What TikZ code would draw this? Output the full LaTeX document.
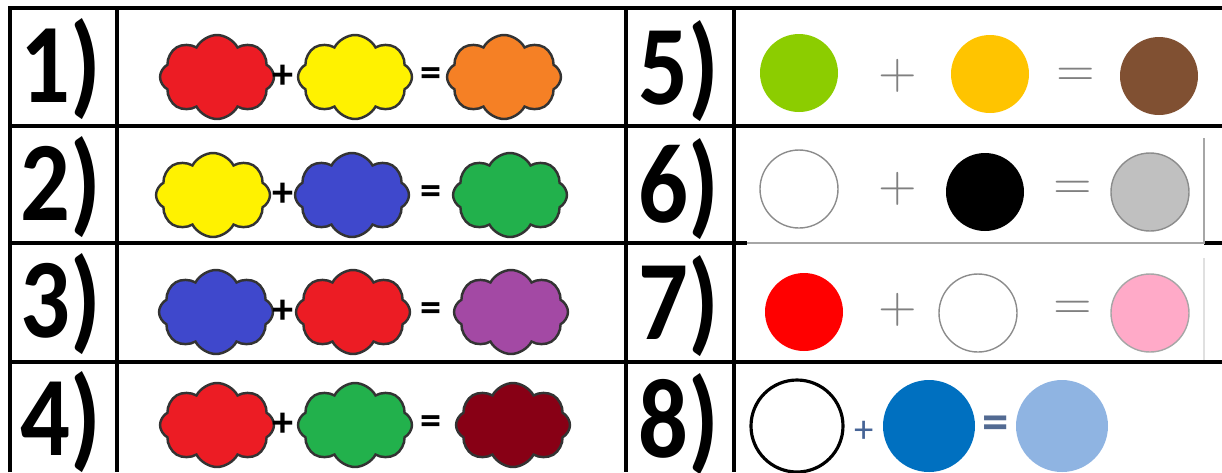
\documentclass[tikz,border=0pt]{standalone}
\usepackage{fontspec}
\setmainfont{Carlito}
\usepackage{tikz}
\usetikzlibrary{shapes.symbols}
\definecolor{paintred}{RGB}{236,28,36}
\definecolor{paintyellow}{RGB}{255,242,0}
\definecolor{paintorange}{RGB}{245,128,37}
\definecolor{paintblue}{RGB}{63,72,204}
\definecolor{paintgreen}{RGB}{34,177,76}
\definecolor{paintpurple}{RGB}{163,73,164}
\definecolor{paintwine}{RGB}{136,0,21}
\definecolor{dotlime}{RGB}{140,205,0}
\definecolor{dotamber}{RGB}{255,196,0}
\definecolor{dotbrown}{RGB}{128,80,50}
\definecolor{dotgray}{RGB}{192,192,192}
\definecolor{dotred}{RGB}{255,0,0}
\definecolor{dotpink}{RGB}{255,170,200}
\definecolor{dotblue}{RGB}{0,112,192}
\definecolor{dotsky}{RGB}{143,180,226}
\definecolor{slate}{RGB}{70,100,150}
\newcommand{\rownum}[1]{\scalebox{1}[1.15]{\fontsize{28}{30}\selectfont\bfseries #1}}
\tikzset{
  grid/.style   = {line width=0.9pt, draw=black},
  frame/.style  = {line width=0.3pt, draw=black!35},
  num/.style    = {inner sep=0pt},
  puff/.style   = {cloud, cloud puffs=8, cloud puff arc=125, cloud ignores aspect,
                   minimum width=11.4mm, minimum height=8.4mm, inner sep=0pt,
                   draw=black!80, line width=0.7pt},
  op/.style     = {font=\fontsize{12}{12}\selectfont\bfseries, inner sep=0pt},
  thinop/.style = {font=\fontsize{15}{15}\selectfont, text=black!50, inner sep=0pt},
  dot/.style    = {circle, minimum size=7.8mm, inner sep=0pt},
  bigdot/.style = {circle, minimum size=9.2mm, inner sep=0pt},
}
\begin{document}
\begin{tikzpicture}[x=0.1mm, y=-0.1mm]
    \useasboundingbox (0,0) rectangle (1222,472);

    % table rules
    \draw[grid] (10,472) -- (10,8) -- (1222,8);
    \draw[grid] (10,126) -- (1222,126);
    \draw[grid] (10,243) -- (747,243);
    \draw[grid] (1204,243) -- (1222,243);
    \draw[grid] (10,362) -- (1222,362);
    \draw[grid] (117,8) -- (117,472);
    \draw[grid] (626,8) -- (626,472);
    \draw[grid] (734,8) -- (734,472);

    % picture frames in rows 6 and 7
    \draw[frame] (747,243) -- (1204,243) -- (1204,138);
    \draw[frame, draw=black!12] (1204,258) -- (1204,360);

    % row numbers
    \node[num] (n1) at (61,69)  {\rownum{1)}};
    \node[num] (n2) at (61,187) {\rownum{2)}};
    \node[num] (n3) at (61,304) {\rownum{3)}};
    \node[num] (n4) at (61,422) {\rownum{4)}};
    \node[num] (n5) at (679,71)  {\rownum{5)}};
    \node[num] (n6) at (679,189) {\rownum{6)}};
    \node[num] (n7) at (679,306) {\rownum{7)}};
    \node[num] (n8) at (679,424) {\rownum{8)}};

    % row 1: red + yellow = orange
    \node[puff, fill=paintred]    (c1a) at (217,77) {};
    \node[op]                     (p1)  at (283,77) {+};
    \node[puff, fill=paintyellow] (c1b) at (355,77) {};
    \node[op]                     (e1)  at (431,77) {=};
    \node[puff, fill=paintorange] (c1c) at (504,77) {};

    % row 2: yellow + blue = green
    \node[puff, fill=paintyellow] (c2a) at (213,195) {};
    \node[op]                     (p2)  at (283,195) {+};
    \node[puff, fill=paintblue]   (c2b) at (352,195) {};
    \node[op]                     (e2)  at (431,195) {=};
    \node[puff, fill=paintgreen]  (c2c) at (510,195) {};

    % row 3: blue + red = purple
    \node[puff, fill=paintblue]   (c3a) at (216,312) {};
    \node[op]                     (p3)  at (283,312) {+};
    \node[puff, fill=paintred]    (c3b) at (353,312) {};
    \node[op]                     (e3)  at (431,312) {=};
    \node[puff, fill=paintpurple] (c3c) at (511,312) {};

    % row 4: red + green = wine
    \node[puff, fill=paintred]    (c4a) at (217,425) {};
    \node[op]                     (p4)  at (283,425) {+};
    \node[puff, fill=paintgreen]  (c4b) at (355,425) {};
    \node[op]                     (e4)  at (431,425) {=};
    \node[puff, fill=paintwine]   (c4c) at (513,425) {};

    % row 5: lime + amber = brown
    \node[dot, fill=dotlime]  (d5a) at (799,73) {};
    \node[thinop]             (p5)  at (898,76) {$+$};
    \node[dot, fill=dotamber] (d5b) at (990,74) {};
    \node[thinop]             (e5)  at (1076,77) {$=$};
    \node[dot, fill=dotbrown] (d5c) at (1159,76) {};

    % row 6: white + black = gray
    \node[dot, draw=black!45, fill=white] (d6a) at (799,189) {};
    \node[thinop]                         (p6)  at (898,189) {$+$};
    \node[dot, fill=black]                (d6b) at (985,192) {};
    \node[thinop]                         (e6)  at (1073,190) {$=$};
    \node[dot, draw=black!45, fill=dotgray] (d6c) at (1150,192) {};

    % row 7: red + white = pink
    \node[dot, fill=dotred]                 (d7a) at (804,312) {};
    \node[thinop]                           (p7)  at (898,310) {$+$};
    \node[dot, draw=black!45, fill=white]   (d7b) at (978,313) {};
    \node[thinop]                           (e7)  at (1073,310) {$=$};
    \node[dot, draw=black!35, fill=dotpink] (d7c) at (1150,313) {};

    % row 8: white + blue = sky
    \node[bigdot, draw=black, line width=0.9pt, fill=white] (d8a) at (797,426) {};
    \node[font=\fontsize{11}{11}\selectfont, text=slate, inner sep=0pt] (p8) at (864,432) {+};
    \node[bigdot, fill=dotblue] (d8b) at (929,426) {};
    \node[op, font=\fontsize{15}{15}\selectfont\bfseries, text=slate!80!gray] (e8) at (996,428) {=};
    \node[bigdot, fill=dotsky]  (d8c) at (1062,426) {};
\end{tikzpicture}
\end{document}
